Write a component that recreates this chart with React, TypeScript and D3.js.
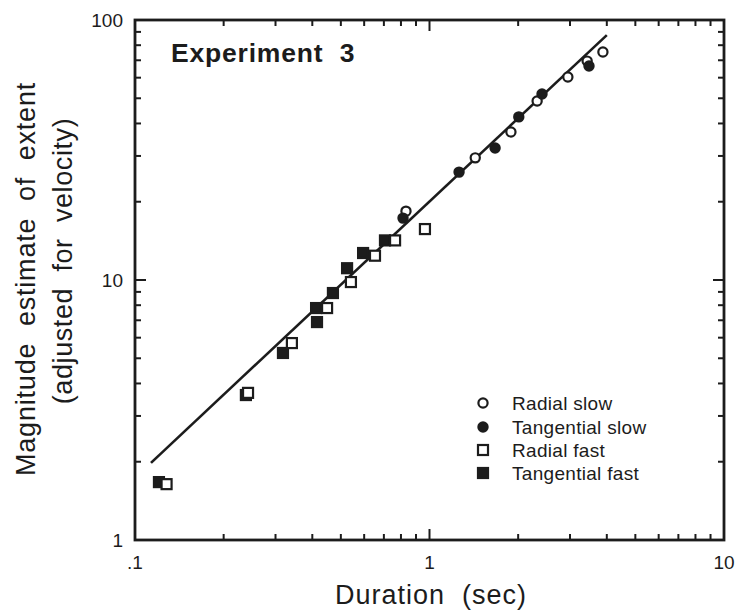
import React from "react";
import * as d3 from "d3";

// ---- data ----
const tangFastX = [0.1206, 0.238, 0.318, 0.415, 0.412, 0.47, 0.525, 0.595, 0.706];
const tangFastY = [1.67, 3.61, 5.24, 6.89, 7.8, 8.91, 11.1, 12.7, 14.2];
const radFastX = [0.128, 0.242, 0.341, 0.449, 0.541, 0.653, 0.764, 0.965];
const radFastY = [1.64, 3.68, 5.72, 7.8, 9.82, 12.4, 14.2, 15.7];
const tangSlowX = [0.813, 1.26, 1.67, 2.01, 2.41, 3.48];
const tangSlowY = [17.3, 26.0, 32.2, 42.4, 51.9, 66.5];
const radSlowX = [0.832, 1.43, 1.89, 2.32, 2.95, 3.43, 3.88];
const radSlowY = [18.4, 29.5, 37.1, 48.8, 60.4, 69.5, 75.3];
const fitX = [0.1133, 4.0];
const fitY = [1.98, 87.5];
const xTickValues = [0.1, 1, 10];
const xTickLabels = [".1", "1", "10"];
const yTickValues = [1, 10, 100];
const yTickLabels = ["1", "10", "100"];
const legendLabels = ["Radial slow", "Tangential slow", "Radial fast", "Tangential fast"];

const W = 735;
const H = 611;
const L = 135, R = 724, T = 20, B = 540;
const INK = "#1c1c1c";
const FONT = "'Liberation Sans', Arial, Helvetica, sans-serif";

export default function App() {
  const x = d3.scaleLog().domain([0.1, 10]).range([L, R]);
  const y = d3.scaleLog().domain([1, 100]).range([B, T]);
  const line = d3.line<number>().x((d, i) => x(fitX[i])).y((d, i) => y(fitY[i]));

  const minorX = x.ticks().filter((v) => !xTickValues.includes(v));
  const minorY = y.ticks().filter((v) => !yTickValues.includes(v));

  const sq = 10;
  const r = 4.6;
  const circle = (cx: number, cy: number, filled: boolean, key: string) => (
    <circle key={key} cx={cx} cy={cy} r={r} fill={filled ? INK : "#fff"} stroke={INK} strokeWidth={2.2} />
  );
  const square = (cx: number, cy: number, filled: boolean, key: string) => (
    <rect key={key} x={cx - sq / 2} y={cy - sq / 2} width={sq} height={sq} fill={filled ? INK : "#fff"} stroke={INK} strokeWidth={2.2} />
  );

  const legendX = 483;
  const legendY = [403, 427, 450, 473];

  return (
    <svg width={W} height={H} style={{ position: "absolute", left: 0, top: 0, background: "#fff" }} fontFamily={FONT}>
      <rect x={0} y={0} width={W} height={H} fill="#fff" />
      {/* minor ticks */}
      {minorX.map((v) => (
        <g key={"mx" + v} stroke={INK} strokeWidth={2}>
          <line x1={x(v)} x2={x(v)} y1={B} y2={B - 6} />
          <line x1={x(v)} x2={x(v)} y1={T} y2={T + 6} />
        </g>
      ))}
      {minorY.map((v) => (
        <g key={"my" + v} stroke={INK} strokeWidth={2}>
          <line x1={L} x2={L + 6} y1={y(v)} y2={y(v)} />
          <line x1={R} x2={R - 6} y1={y(v)} y2={y(v)} />
        </g>
      ))}
      {xTickValues.map((v) => (
        <g key={"Mx" + v} stroke={INK} strokeWidth={2}>
          <line x1={x(v)} x2={x(v)} y1={B} y2={B - 11} />
          <line x1={x(v)} x2={x(v)} y1={T} y2={T + 11} />
        </g>
      ))}
      {yTickValues.map((v) => (
        <g key={"My" + v} stroke={INK} strokeWidth={2}>
          <line x1={L} x2={L + 11} y1={y(v)} y2={y(v)} />
          <line x1={R} x2={R - 11} y1={y(v)} y2={y(v)} />
        </g>
      ))}
      {/* frame */}
      <rect x={L} y={T} width={R - L} height={B - T} fill="none" stroke={INK} strokeWidth={2.8} />

      {/* tick labels */}
      {xTickValues.map((v, i) => (
        <text key={"xl" + v} x={x(v)} y={569} textAnchor="middle" fontSize={19} fill={INK}>
          {xTickLabels[i]}
        </text>
      ))}
      {yTickValues.map((v, i) => (
        <text key={"yl" + v} x={123} y={y(v) + 7} textAnchor="end" fontSize={19} fill={INK}>
          {yTickLabels[i]}
        </text>
      ))}

      {/* axis titles */}
      <text x={431} y={604} textAnchor="middle" fontSize={27} letterSpacing={1} fill={INK} style={{ whiteSpace: "pre" }}>
        {"Duration  (sec)"}
      </text>
      <text transform="translate(35,279) rotate(-90)" textAnchor="middle" fontSize={27} letterSpacing={0.8} fill={INK} style={{ whiteSpace: "pre" }}>
        {"Magnitude  estimate  of  extent"}
      </text>
      <text transform="translate(72,261) rotate(-90)" textAnchor="middle" fontSize={27} letterSpacing={0.6} fill={INK} style={{ whiteSpace: "pre" }}>
        {"(adjusted  for  velocity)"}
      </text>

      {/* panel title */}
      <text x={171} y={62} fontSize={26.5} fontWeight="bold" letterSpacing={0.8} fill={INK} style={{ whiteSpace: "pre" }}>
        {"Experiment  3"}
      </text>

      {/* fit line */}
      <path d={line(fitX) || ""} fill="none" stroke={INK} strokeWidth={2.6} />

      {/* points */}
      {tangFastX.map((v, i) => square(x(v), y(tangFastY[i]), true, "tf" + i))}
      {radFastX.map((v, i) => square(x(v), y(radFastY[i]), false, "rf" + i))}
      {radSlowX.map((v, i) => circle(x(v), y(radSlowY[i]), false, "rs" + i))}
      {tangSlowX.map((v, i) => circle(x(v), y(tangSlowY[i]), true, "ts" + i))}

      {/* legend */}
      {circle(legendX, legendY[0], false, "lg0")}
      {circle(legendX, legendY[1], true, "lg1")}
      {square(legendX, legendY[2], false, "lg2")}
      {square(legendX, legendY[3], true, "lg3")}
      {legendLabels.map((t, i) => (
        <text key={t} x={512} y={legendY[i] + 7} fontSize={19} letterSpacing={0.3} fill={INK}>
          {t}
        </text>
      ))}
    </svg>
  );
}
